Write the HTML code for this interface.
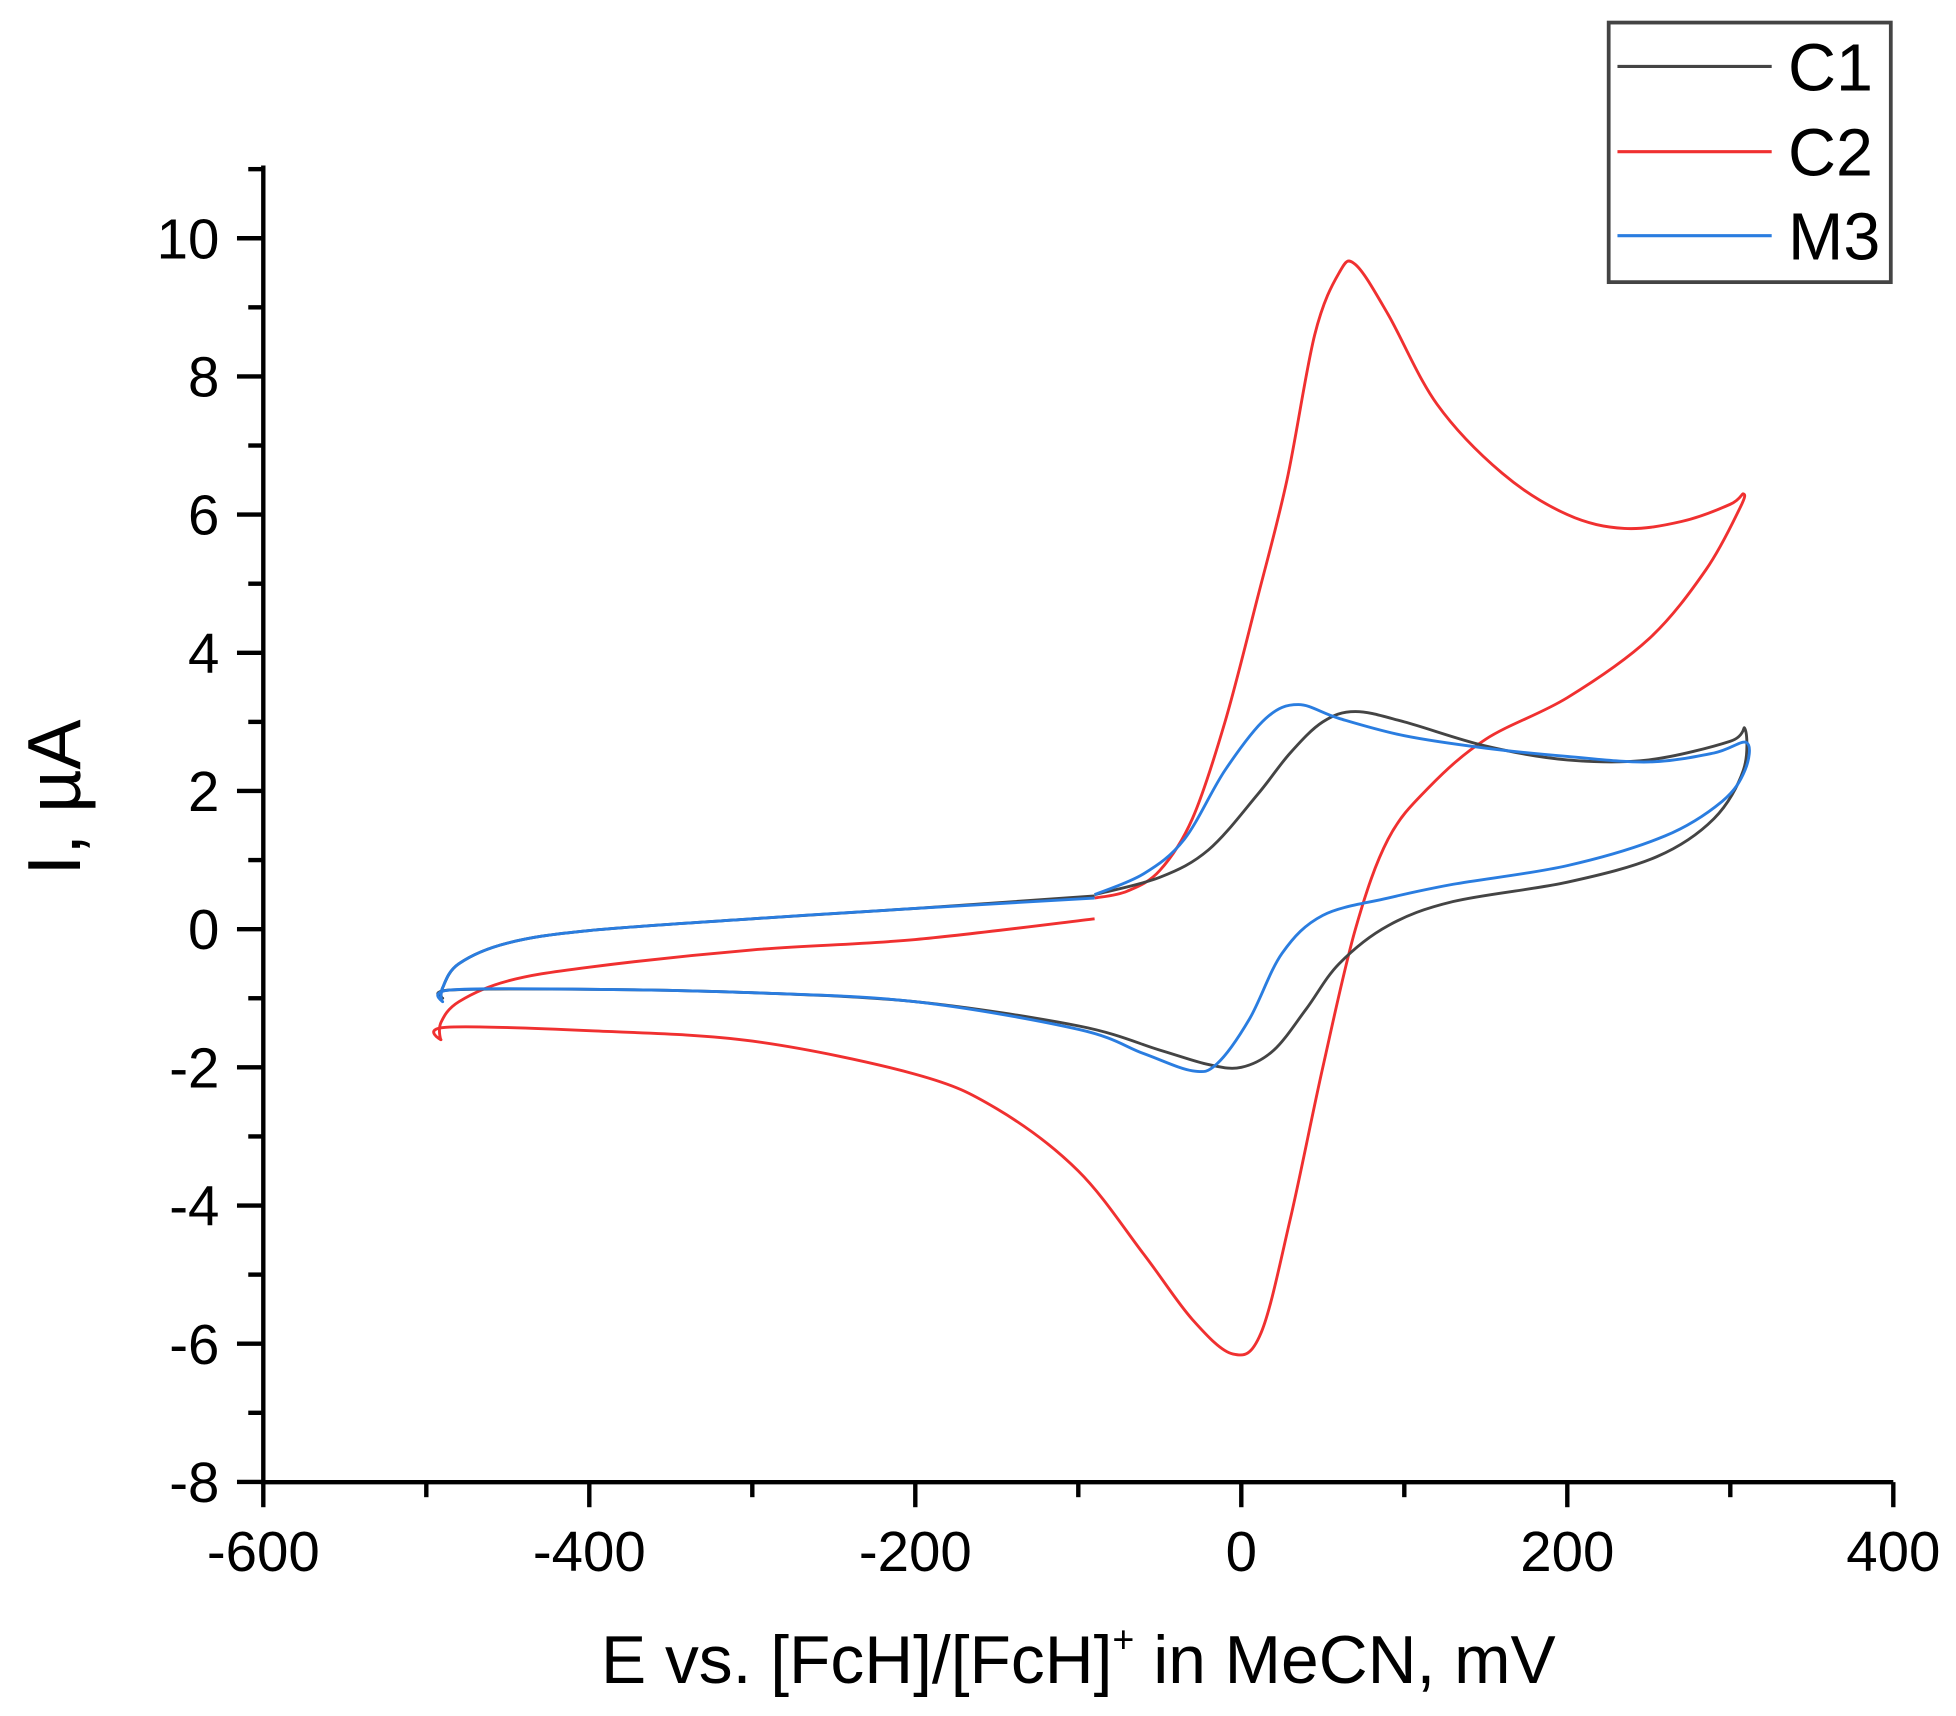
<!DOCTYPE html>
<html><head><meta charset="utf-8"><style>html,body{margin:0;padding:0;background:#fff}svg{display:block}</style></head>
<body>
<svg id="s" width="1956" height="1716" viewBox="0 0 1560 1368.5" preserveAspectRatio="none" xmlns="http://www.w3.org/2000/svg" font-family="'Liberation Sans', sans-serif">
<rect width="1560" height="1368.5" fill="#fff"/>
<g id="ax" stroke="#000" stroke-width="3.5" fill="none">
<line x1="210" y1="132" x2="210" y2="1183.5"/>
<line x1="208" y1="1182" x2="1510" y2="1182"/>
</g>
<g id="ticks" stroke="#000" stroke-width="3.5"></g>
<g id="lbl" font-size="45" fill="#000"></g>
<text x="860" y="1342" font-size="54" text-anchor="middle">E vs. [FcH]/[FcH]<tspan font-size="30" dy="-24">+</tspan><tspan dy="24"> in MeCN, mV</tspan></text>
<text transform="translate(64,636) rotate(-90)" font-size="60" text-anchor="middle">I, µA</text>
<g id="curves" fill="none" stroke-width="2.3"></g>
<rect x="1283" y="18" width="225" height="207" fill="#fff" stroke="#444" stroke-width="3"/>
<line x1="1290" y1="53" x2="1413" y2="53" stroke="#444" stroke-width="2.5"/>
<line x1="1290" y1="121" x2="1413" y2="121" stroke="#f03030" stroke-width="2.5"/>
<line x1="1290" y1="188" x2="1413" y2="188" stroke="#2a7de0" stroke-width="2.5"/>
<text x="1426" y="72" font-size="53">C1</text>
<text x="1426" y="140" font-size="53">C2</text>
<text x="1426" y="207" font-size="53">M3</text>
</svg>
<script>
var NS="http://www.w3.org/2000/svg";
function X(v){return 210+(v+600)*1.3}
function Y(v){return 741-v*55.1}
var t=document.getElementById('ticks'),l=document.getElementById('lbl');
function el(p,n,a,txt){var e=document.createElementNS(NS,n);for(var k in a)e.setAttribute(k,a[k]);if(txt!=null)e.textContent=txt;p.appendChild(e);}
for(var v=-600;v<=400;v+=100){var maj=v%200==0;el(t,'line',{x1:X(v),x2:X(v),y1:1182,y2:1182+(maj?20:12)});if(maj)el(l,'text',{x:X(v),y:1253,'text-anchor':'middle'},v);}
for(var v=-8;v<=11;v+=1){var maj=v%2==0;el(t,'line',{x1:210,x2:210-(maj?21:12),y1:Y(v),y2:Y(v)});if(maj&&v<=10)el(l,'text',{x:175,y:Y(v)+16,'text-anchor':'end'},v);}
function path(pts){var p=pts.map(function(q){return[X(q[0]),Y(q[1])]});var d='M'+p[0][0]+','+p[0][1];
for(var i=0;i<p.length-1;i++){var p0=p[Math.max(i-1,0)],p1=p[i],p2=p[i+1],p3=p[Math.min(i+2,p.length-1)];
d+=' C'+(p1[0]+(p2[0]-p0[0])/6)+','+(p1[1]+(p2[1]-p0[1])/6)+' '+(p2[0]-(p3[0]-p1[0])/6)+','+(p2[1]-(p3[1]-p1[1])/6)+' '+p2[0]+','+p2[1];}return d;}
var c=document.getElementById('curves');
var red=[[-90,0.15],[-200,-0.15],[-300,-0.3],[-400,-0.55],[-450,-0.75],[-480,-1.05],[-491,-1.35],[-491,-1.6],[-488,-1.42],[-400,-1.47],[-300,-1.62],[-200,-2.1],[-150,-2.6],[-100,-3.5],[-60,-4.7],[-30,-5.65],[-5,-6.15],[12,-5.85],[30,-4.2],[50,-2.0],[70,0.0],[90,1.3],[115,2.05],[150,2.75],[200,3.35],[250,4.2],[285,5.2],[306,6.1],[308,6.3],[300,6.15],[270,5.9],[235,5.8],[200,6.0],[160,6.6],[120,7.6],[90,8.9],[70,9.62],[60,9.5],[45,8.6],[28,6.5],[10,4.8],[-10,3.0],[-30,1.6],[-50,0.85],[-70,0.55],[-90,0.45]];
var blk=[[-90,0.48],[-200,0.3],[-300,0.15],[-400,-0.02],[-450,-0.2],[-480,-0.5],[-490,-0.85],[-490,-1.0],[-485,-0.88],[-400,-0.87],[-300,-0.92],[-200,-1.05],[-100,-1.4],[-50,-1.75],[-20,-1.96],[0,-2.0],[20,-1.75],[40,-1.15],[60,-0.5],[90,0.05],[130,0.4],[200,0.68],[255,1.05],[290,1.6],[308,2.3],[309,2.9],[300,2.72],[250,2.45],[200,2.45],[150,2.65],[100,3.0],[70,3.15],[50,3.0],[30,2.55],[10,1.95],[-20,1.15],[-50,0.75],[-90,0.5]];
var blu=[[-90,0.45],[-200,0.3],[-300,0.15],[-400,-0.02],[-450,-0.2],[-480,-0.5],[-490,-0.85],[-490,-1.05],[-485,-0.88],[-400,-0.87],[-300,-0.92],[-200,-1.05],[-100,-1.45],[-60,-1.8],[-30,-2.05],[-15,-1.95],[5,-1.3],[25,-0.35],[50,0.2],[90,0.45],[130,0.65],[200,0.92],[260,1.35],[295,1.85],[309,2.3],[310,2.7],[290,2.55],[250,2.42],[200,2.5],[150,2.62],[100,2.8],[60,3.05],[35,3.25],[15,3.05],[-10,2.3],[-35,1.3],[-60,0.8],[-90,0.5]];
el(c,'path',{d:path(red),stroke:'#f03030'});
el(c,'path',{d:path(blk),stroke:'#444'});
el(c,'path',{d:path(blu),stroke:'#2a7de0'});
</script>
</body></html>
